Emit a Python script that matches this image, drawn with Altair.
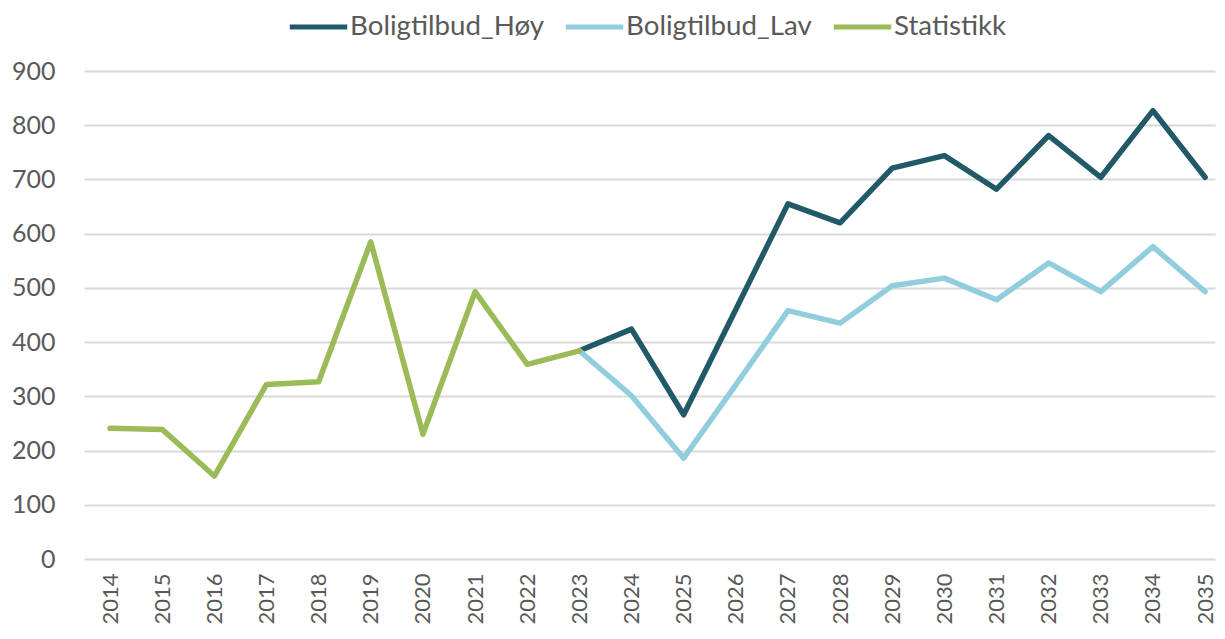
import altair as alt
import pandas as pd

years_stat = [2014, 2015, 2016, 2017, 2018, 2019, 2020, 2021, 2022, 2023]
stat = [241, 239, 153, 322, 327, 585, 230, 493, 359, 384]

years_proj = [2023, 2024, 2025, 2026, 2027, 2028, 2029, 2030, 2031, 2032, 2033, 2034, 2035]
hoy = [384, 424, 266, 460, 655, 620, 721, 744, 682, 781, 704, 827, 704]
lav = [384, 301, 186, 321, 458, 435, 504, 518, 478, 546, 493, 576, 493]

all_years = list(range(2014, 2036))
series_names = ["Boligtilbud_Høy", "Boligtilbud_Lav", "Statistikk"]
series_colors = ["#215968", "#92CDDD", "#9BBB59"]

rows = []
for y, v in zip(years_proj, hoy):
    rows.append({"År": y, "Verdi": v, "Serie": "Boligtilbud_Høy"})
for y, v in zip(years_proj, lav):
    rows.append({"År": y, "Verdi": v, "Serie": "Boligtilbud_Lav"})
for y, v in zip(years_stat, stat):
    rows.append({"År": y, "Verdi": v, "Serie": "Statistikk"})
df = pd.DataFrame(rows)

FONT = "Lato"
TXT = "#595959"

chart = alt.Chart(df).mark_line(strokeWidth=5.5, strokeCap="round", strokeJoin="round").encode(
    x=alt.X("År:Q",
            scale=alt.Scale(domain=[2013.5, 2035.19], nice=False, zero=False),
            axis=alt.Axis(values=all_years, format="d", labelAngle=-90, labelAlign="right",
                          labelBaseline="middle", labelPadding=14, ticks=False, domain=False,
                          grid=False, title=None, labelFont=FONT, labelFontSize=22,
                          labelColor=TXT, labelOverlap=False, labelFlush=False)),
    y=alt.Y("Verdi:Q",
            scale=alt.Scale(domain=[0, 900], nice=False),
            axis=alt.Axis(values=list(range(0, 1000, 100)), ticks=False, domain=False,
                          grid=True, gridColor="#D9D9D9", gridWidth=2, labelPadding=29,
                          title=None, labelFont=FONT, labelFontSize=25, labelColor=TXT)),
    color=alt.Color("Serie:N",
                    scale=alt.Scale(domain=series_names, range=series_colors),
                    legend=alt.Legend(title=None, orient="none", direction="horizontal",
                                      legendX=203, legendY=-76, symbolType="stroke",
                                      symbolSize=3300, symbolStrokeWidth=5,
                                      labelFont=FONT, labelFontSize=27.7, labelColor=TXT,
                                      labelLimit=0, labelOffset=0, columnPadding=11)),
    order=alt.Order("År:Q"),
).properties(
    width=1131, height=488,
    autosize=alt.AutoSizeParams(type="none"),
    padding={"left": 76, "top": 63, "right": 2, "bottom": 72},
).configure_view(stroke=None)

chart.save("out.html", embed_options={"renderer": "svg", "actions": False})
